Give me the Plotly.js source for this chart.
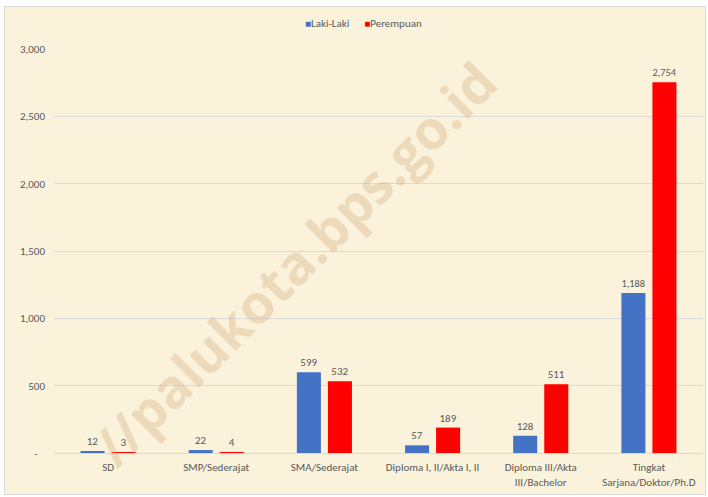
<!DOCTYPE html>
<html><head><meta charset="utf-8">
<script src="https://cdn.plot.ly/plotly-3.0.1.min.js"></script>
<style>
html,body{margin:0;padding:0;background:#ffffff;}
#frame{position:absolute;left:4px;top:6px;width:700px;height:487px;border:1px solid #dcdcdc;background:#fbf2dc;}
#chart{width:700px;height:487px;}
</style></head>
<body><div id="frame"><div id="chart"></div></div>
<script>
const categories = ["SD","SMP/Sederajat","SMA/Sederajat","Diploma I, II/Akta I, II","Diploma III/Akta<br>III/Bachelor","Tingkat<br>Sarjana/Doktor/Ph.D"];
const seriesNames = ["Laki-Laki", "Perempuan"];
const lakiLaki = [12, 22, 599, 57, 128, 1188];
const perempuan = [3, 4, 532, 189, 511, 2754];
const yTickVals = [0, 500, 1000, 1500, 2000, 2500, 3000];
const yTickText = ["-\u00a0\u00a0\u00a0", "500", "1,000", "1,500", "2,000", "2,500", "3,000"];
const colors = ["#4472c4", "#ff0000"];

const font = {family: "Carlito, 'Open Sans', 'Liberation Sans', sans-serif", size: 11, color: "#595959"};
const traces = [
  {type:"bar", name:seriesNames[0], x:categories, y:lakiLaki, marker:{color:colors[0]},
   texttemplate:"%{y:,}", textposition:"outside", cliponaxis:false, textfont:font, showlegend:false},
  {type:"bar", name:seriesNames[1], x:categories, y:perempuan, marker:{color:colors[1]},
   texttemplate:"%{y:,}", textposition:"outside", cliponaxis:false, textfont:font, showlegend:false}
];
const legendText = seriesNames.map((n,i)=>'<span style="color:'+colors[i]+';font-size:10px">■</span>'+n).join('\u00a0\u00a0\u00a0\u00a0\u00a0\u00a0');
const layout = {
  width:700, height:487,
  margin:{l:49, r:2, t:42, b:41},
  paper_bgcolor:"rgba(0,0,0,0)", plot_bgcolor:"rgba(0,0,0,0)",
  font:font,
  barmode:"group", bargap:0.426, bargroupgap:0.226,
  showlegend:false,
  xaxis:{type:"category", showgrid:false, showline:true, linecolor:"#d9d9d9", ticks:"", tickfont:font, automargin:false, ticklabelstandoff:4},
  yaxis:{range:[0,3000], tickvals:yTickVals, ticktext:yTickText, showgrid:true, gridcolor:"#d9d9d9", zeroline:false, ticks:"", tickfont:font, ticklabelstandoff:8, automargin:false},
  annotations:[
    {text:"//palukota.bps.go.id", xref:"paper", yref:"paper", x:0.37, y:0.47, showarrow:false, textangle:-45,
     font:{family:"'Open Sans', 'Liberation Sans', sans-serif", size:54, color:"rgba(210,170,120,0.33)", weight:"bold"}},
    {text:legendText, xref:"paper", yref:"paper", x:0.477, y:1.062, xanchor:"center", yanchor:"middle", showarrow:false, font:font}
  ]
};
Plotly.newPlot("chart", traces, layout, {displayModeBar:false});
</script></body></html>
